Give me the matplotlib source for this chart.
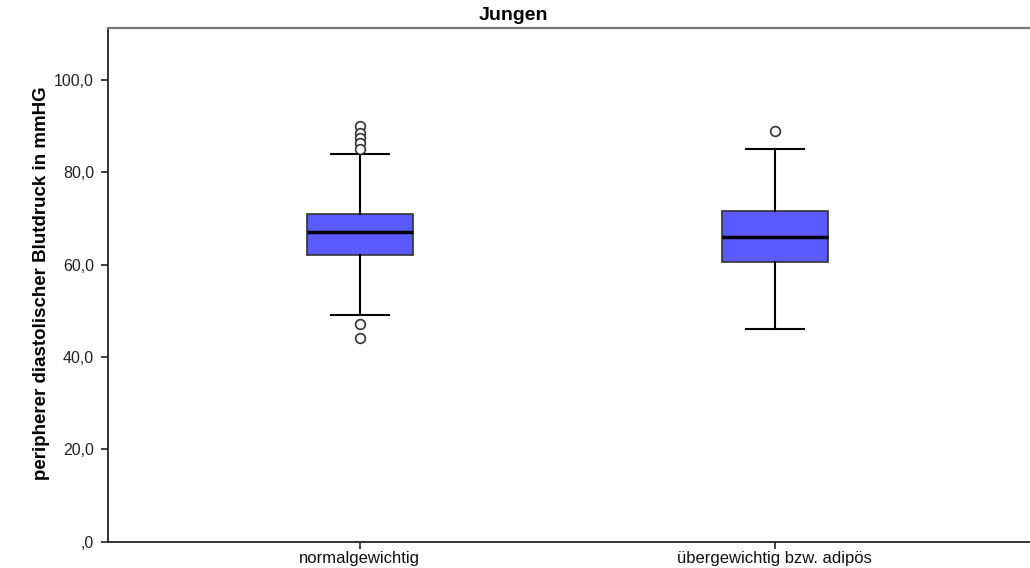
import matplotlib
matplotlib.use("Agg")
import matplotlib.pyplot as plt

# Group labels
categories = ["normalgewichtig", "übergewichtig bzw. adipös"]

# Box statistics: lower whisker, Q1, median, Q3, upper whisker
whisker_low = [49.0, 46.0]
q1 = [62.0, 60.5]
median = [67.0, 66.0]
q3 = [71.0, 71.5]
whisker_high = [84.0, 85.0]

# Outliers per group
outliers = [
    [90.0, 88.4, 87.3, 86.2, 85.1, 47.2, 44.2],
    [89.0],
]

yticks = [0, 20, 40, 60, 80, 100]
ytick_labels = [",0", "20,0", "40,0", "60,0", "80,0", "100,0"]

title = "Jungen"
ylabel = "peripherer diastolischer Blutdruck in mmHG"

plt.rcParams["font.family"] = ["Liberation Sans", "DejaVu Sans"]

fig = plt.figure(figsize=(10.3, 5.68), dpi=100)
ax = fig.add_axes([108 / 1030, 26.3 / 568, 1 - 108 / 1030 + 0.002, (541.7 - 28) / 568])

stats = []
for i, c in enumerate(categories):
    stats.append(dict(label=c, whislo=whisker_low[i], q1=q1[i], med=median[i],
                      q3=q3[i], whishi=whisker_high[i], fliers=outliers[i]))

ax.bxp(stats, positions=[1, 2], widths=0.255, patch_artist=True,
       boxprops=dict(facecolor="#5a5aff", edgecolor="#333333", linewidth=1.2),
       medianprops=dict(color="black", linewidth=2.5),
       whiskerprops=dict(color="black", linewidth=1.5),
       capprops=dict(color="black", linewidth=1.5),
       capwidths=0.14,
       flierprops=dict(marker="o", markerfacecolor="white", markeredgecolor="#333333",
                       markersize=7, markeredgewidth=1.2))

ax.set_xlim(0.393, 2.62)
ax.set_ylim(0, 111.2)
ax.set_yticks(yticks)
ax.set_yticklabels(ytick_labels, fontsize=11.5, color="#222222")
ax.set_xticks([1, 2])
ax.set_xticklabels(categories, fontsize=12, color="#111111")
ax.tick_params(axis="both", direction="out", length=5, width=1.2, color="#222222")
ax.tick_params(axis="y", pad=5)
ax.tick_params(axis="x", pad=2)

for side in ["left", "bottom"]:
    ax.spines[side].set_color("#222222")
    ax.spines[side].set_linewidth(1.3)
ax.spines["top"].set_color("#777777")
ax.spines["top"].set_linewidth(1.6)
ax.spines["right"].set_visible(False)

fig.text(513 / 1030, 1 - 15 / 568, title, ha="center", va="center",
         fontsize=14, fontweight="bold")
fig.text(42 / 1030, 1 - 283 / 568, ylabel, ha="center", va="center", rotation=90,
         fontsize=13.5, fontweight="bold")

fig.savefig("out.png", dpi=100, facecolor="white")
